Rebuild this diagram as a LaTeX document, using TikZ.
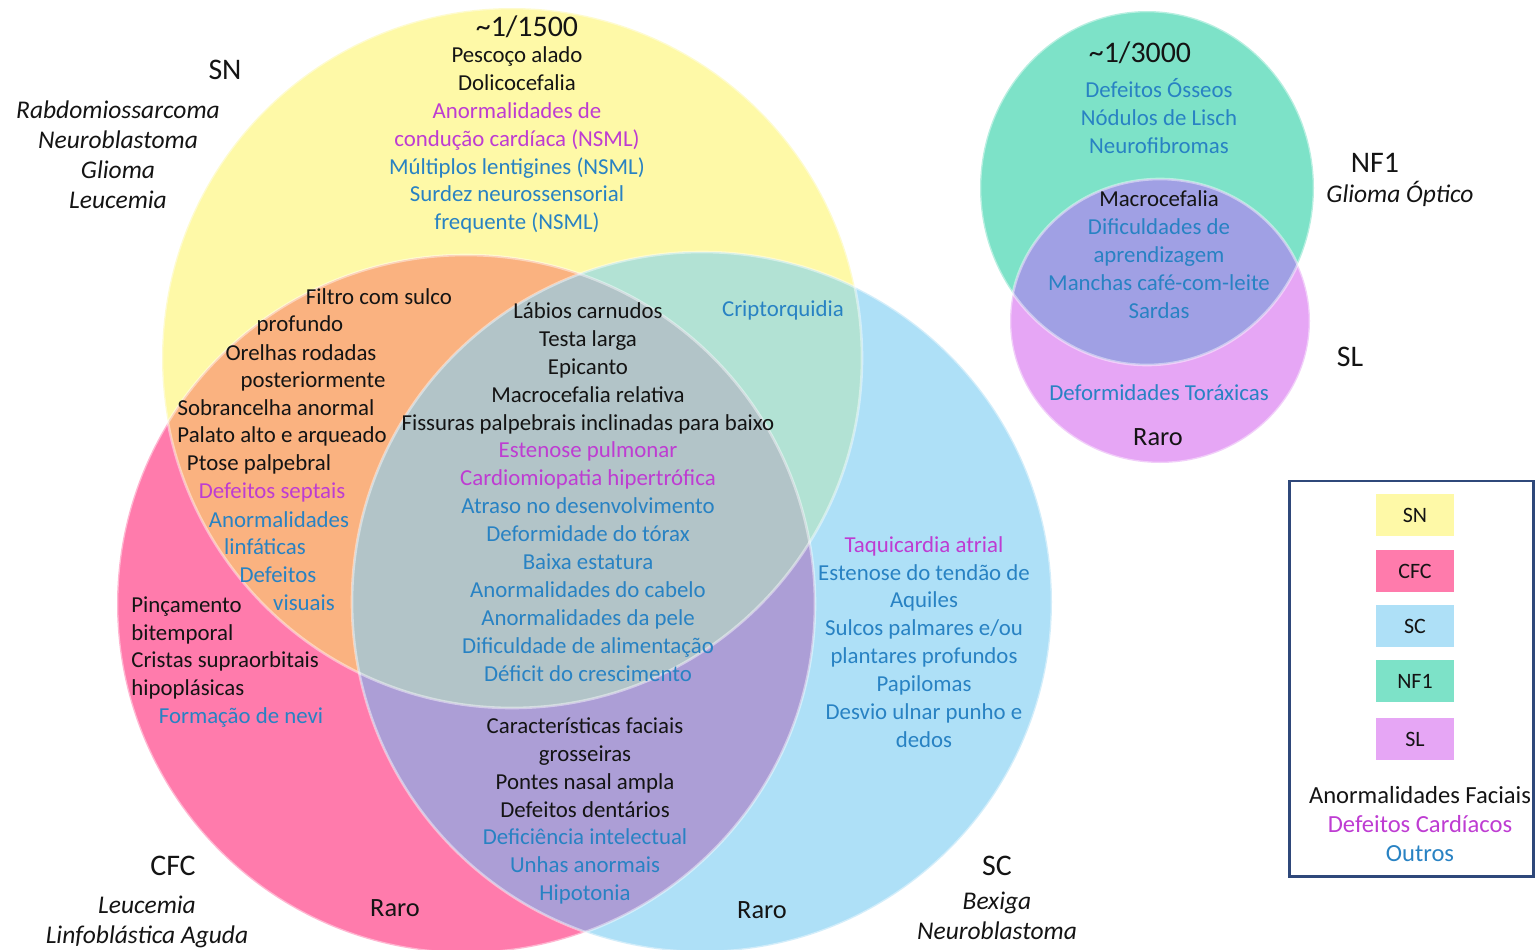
\documentclass[tikz,border=0pt]{standalone}
\usepackage{fontspec}
\setmainfont{Carlito}
\usepackage{xcolor}
% region colours
\definecolor{snYellow}{RGB}{254,249,167}
\definecolor{cfcPink}{RGB}{255,123,172}
\definecolor{scBlue}{RGB}{174,224,247}
\definecolor{snCfc}{RGB}{250,178,128}
\definecolor{snSc}{RGB}{178,226,212}
\definecolor{cfcSc}{RGB}{172,158,214}
\definecolor{allThree}{RGB}{178,196,200}
\definecolor{nfGreen}{RGB}{125,226,200}
\definecolor{slViolet}{RGB}{230,166,245}
\definecolor{nfSl}{RGB}{160,160,228}
\definecolor{legBorder}{RGB}{47,72,122}
% text colours
\definecolor{txtBlack}{RGB}{20,20,20}
\definecolor{txtMag}{RGB}{190,60,210}
\definecolor{txtBlue}{RGB}{40,130,195}
\newcommand{\cardio}[1]{\textcolor{txtMag}{#1}}
\newcommand{\outros}[1]{\textcolor{txtBlue}{#1}}

\tikzset{
  body/.style={font=\fontsize{13}{15.9}\selectfont, text=txtBlack, align=center, inner sep=0pt},
  bodyleft/.style={body, align=left},
  title/.style={font=\fontsize{17}{20}\selectfont, text=txtBlack, inner sep=0pt},
  cancer/.style={font=\fontsize{14.5}{17}\selectfont\itshape, text=txtBlack, align=center, inner sep=0pt},
  raro/.style={font=\fontsize{15}{18}\selectfont, text=txtBlack, inner sep=0pt},
  rim/.style={draw=white, draw opacity=0.45, line width=1.5pt},
  swatch/.style={minimum width=1.56cm, minimum height=0.84cm, inner sep=0pt,
    font=\fontsize{12.5}{15}\selectfont, text=txtBlack}
}

\begin{document}
\begin{tikzpicture}[x=0.02cm, y=-0.02cm]
    \useasboundingbox (0,0) rectangle (1536,950);

    % centres of the circles
    \coordinate (snC) at (512,358);
    \coordinate (cfcC) at (466,604);
    \coordinate (scC) at (702,602);
    \coordinate (nfC) at (1147,188);
    \coordinate (slC) at (1160,321);

    % big venn: SN, CFC, SC
    \fill[snYellow] (snC) circle [radius=350];
    \fill[cfcPink] (cfcC) circle [radius=349];
    \fill[scBlue] (scC) circle [radius=350];
    \begin{scope}
        \clip (snC) circle [radius=350];
        \fill[snCfc] (cfcC) circle [radius=349];
        \fill[snSc] (scC) circle [radius=350];
    \end{scope}
    \begin{scope}
        \clip (cfcC) circle [radius=349];
        \fill[cfcSc] (scC) circle [radius=350];
        \clip (snC) circle [radius=350];
        \fill[allThree] (scC) circle [radius=350];
    \end{scope}
    \draw[rim] (snC) circle [radius=350];
    \draw[rim] (cfcC) circle [radius=349];
    \draw[rim] (scC) circle [radius=350];

    % small venn: NF1, SL
    \fill[nfGreen] (nfC) ellipse [x radius=167, y radius=177];
    \fill[slViolet] (slC) ellipse [x radius=150, y radius=142];
    \begin{scope}
        \clip (nfC) ellipse [x radius=167, y radius=177];
        \fill[nfSl] (slC) ellipse [x radius=150, y radius=142];
    \end{scope}
    \draw[rim] (nfC) ellipse [x radius=167, y radius=177];
    \draw[rim] (slC) ellipse [x radius=150, y radius=142];

    % SN only
    \node[title] (snFreq) at (527,27) {\textasciitilde1/1500};
    \node[body] (snOnly) at (517,140) {Pescoço alado\\Dolicocefalia\\
        \cardio{Anormalidades de}\\\cardio{condução cardíaca (NSML)}\\
        \outros{Múltiplos lentigines (NSML)}\\\outros{Surdez neurossensorial}\\
        \outros{frequente (NSML)}};

    % SN and CFC
    \node[body] (sc1) at (379,297) {Filtro com sulco};
    \node[body] (sc2) at (300,325) {profundo};
    \node[body] (sc3) at (301,353) {Orelhas rodadas};
    \node[body] (sc4) at (313,381) {posteriormente};
    \node[body] (sc5) at (276,408) {Sobrancelha anormal};
    \node[body] (sc6) at (282,436) {Palato alto e arqueado};
    \node[body] (sc7) at (259,464) {Ptose palpebral};
    \node[body, text=txtMag] (sc8) at (272,492) {Defeitos septais};
    \node[body, text=txtBlue] (sc9) at (279,520) {Anormalidades};
    \node[body, text=txtBlue] (sc10) at (265,547) {linfáticas};
    \node[body, text=txtBlue] (sc11) at (278,575) {Defeitos};
    \node[body, text=txtBlue] (sc12) at (304,603) {visuais};

    % all three
    \node[body] (core) at (588,492) {Lábios carnudos\\Testa larga\\Epicanto\\
        Macrocefalia relativa\\Fissuras palpebrais inclinadas para baixo\\
        \cardio{Estenose pulmonar}\\\cardio{Cardiomiopatia hipertrófica}\\
        \outros{Atraso no desenvolvimento}\\\outros{Deformidade do tórax}\\
        \outros{Baixa estatura}\\\outros{Anormalidades do cabelo}\\
        \outros{Anormalidades da pele}\\\outros{Dificuldade de alimentação}\\
        \outros{Déficit do crescimento}};

    % SN and SC
    \node[body, text=txtBlue] (snsc) at (783,310) {Criptorquidia};

    % SC only
    \node[body] (scOnly) at (924,642) {\cardio{Taquicardia atrial}\\
        \outros{Estenose do tendão de}\\\outros{Aquiles}\\
        \outros{Sulcos palmares e/ou}\\\outros{plantares profundos}\\
        \outros{Papilomas}\\\outros{Desvio ulnar punho e}\\\outros{dedos}};

    % CFC only
    \node[bodyleft, anchor=west] (cfcOnly) at (131,648) {Pinçamento\\bitemporal\\
        Cristas supraorbitais\\hipoplásicas};
    \node[body, text=txtBlue] (nevi) at (241,717) {Formação de nevi};

    % CFC and SC
    \node[body] (cfcsc) at (585,811) {Características faciais\\grosseiras\\
        Pontes nasal ampla\\Defeitos dentários\\
        \outros{Deficiência intelectual}\\\outros{Unhas anormais}\\
        \outros{Hipotonia}};
    \node[raro] (raroCfc) at (395,908) {Raro};
    \node[raro] (raroSc) at (762,910) {Raro};

    % syndrome names and cancers
    \node[title] (snName) at (225,70) {SN};
    \node[cancer] (snCancer) at (118,155) {Rabdomiossarcoma\\Neuroblastoma\\Glioma\\Leucemia};
    \node[title] (cfcName) at (173,866) {CFC};
    \node[cancer] (cfcCancer) at (147,922) {Leucemia\\Linfoblástica Aguda};
    \node[title] (scName) at (997,866) {SC};
    \node[cancer] (scCancer) at (997,916) {Bexiga\\Neuroblastoma};

    % NF1 and SL
    \node[title] (nfFreq) at (1140,53) {\textasciitilde1/3000};
    \node[body, text=txtBlue] (nfOnly) at (1159,116) {Defeitos Ósseos\\Nódulos de Lisch\\Neurofibromas};
    \node[body] (nfsl) at (1159,255) {Macrocefalia\\\outros{Dificuldades de}\\
        \outros{aprendizagem}\\\outros{Manchas café-com-leite}\\\outros{Sardas}};
    \node[body, text=txtBlue] (slOnly) at (1159,393) {Deformidades Toráxicas};
    \node[raro] (raroSl) at (1158,437) {Raro};
    \node[title] (nfName) at (1375,163) {NF1};
    \node[cancer] (nfCancer) at (1400,194) {Glioma Óptico};
    \node[title] (slName) at (1350,357) {SL};

    % legend
    \draw[legBorder, line width=1.7pt] (1289,481) rectangle (1533,876);
    \node[swatch, fill=snYellow] (kSN) at (1415,515) {SN};
    \node[swatch, fill=cfcPink] (kCFC) at (1415,571) {CFC};
    \node[swatch, fill=scBlue] (kSC) at (1415,626) {SC};
    \node[swatch, fill=nfGreen] (kNF) at (1415,681) {NF1};
    \node[swatch, fill=slViolet] (kSL) at (1415,739) {SL};
    \node[body, font=\fontsize{14}{16.5}\selectfont] (kText) at (1420,824) {Anormalidades Faciais\\
        \cardio{Defeitos Cardíacos}\\\outros{Outros}};
\end{tikzpicture}
\end{document}
